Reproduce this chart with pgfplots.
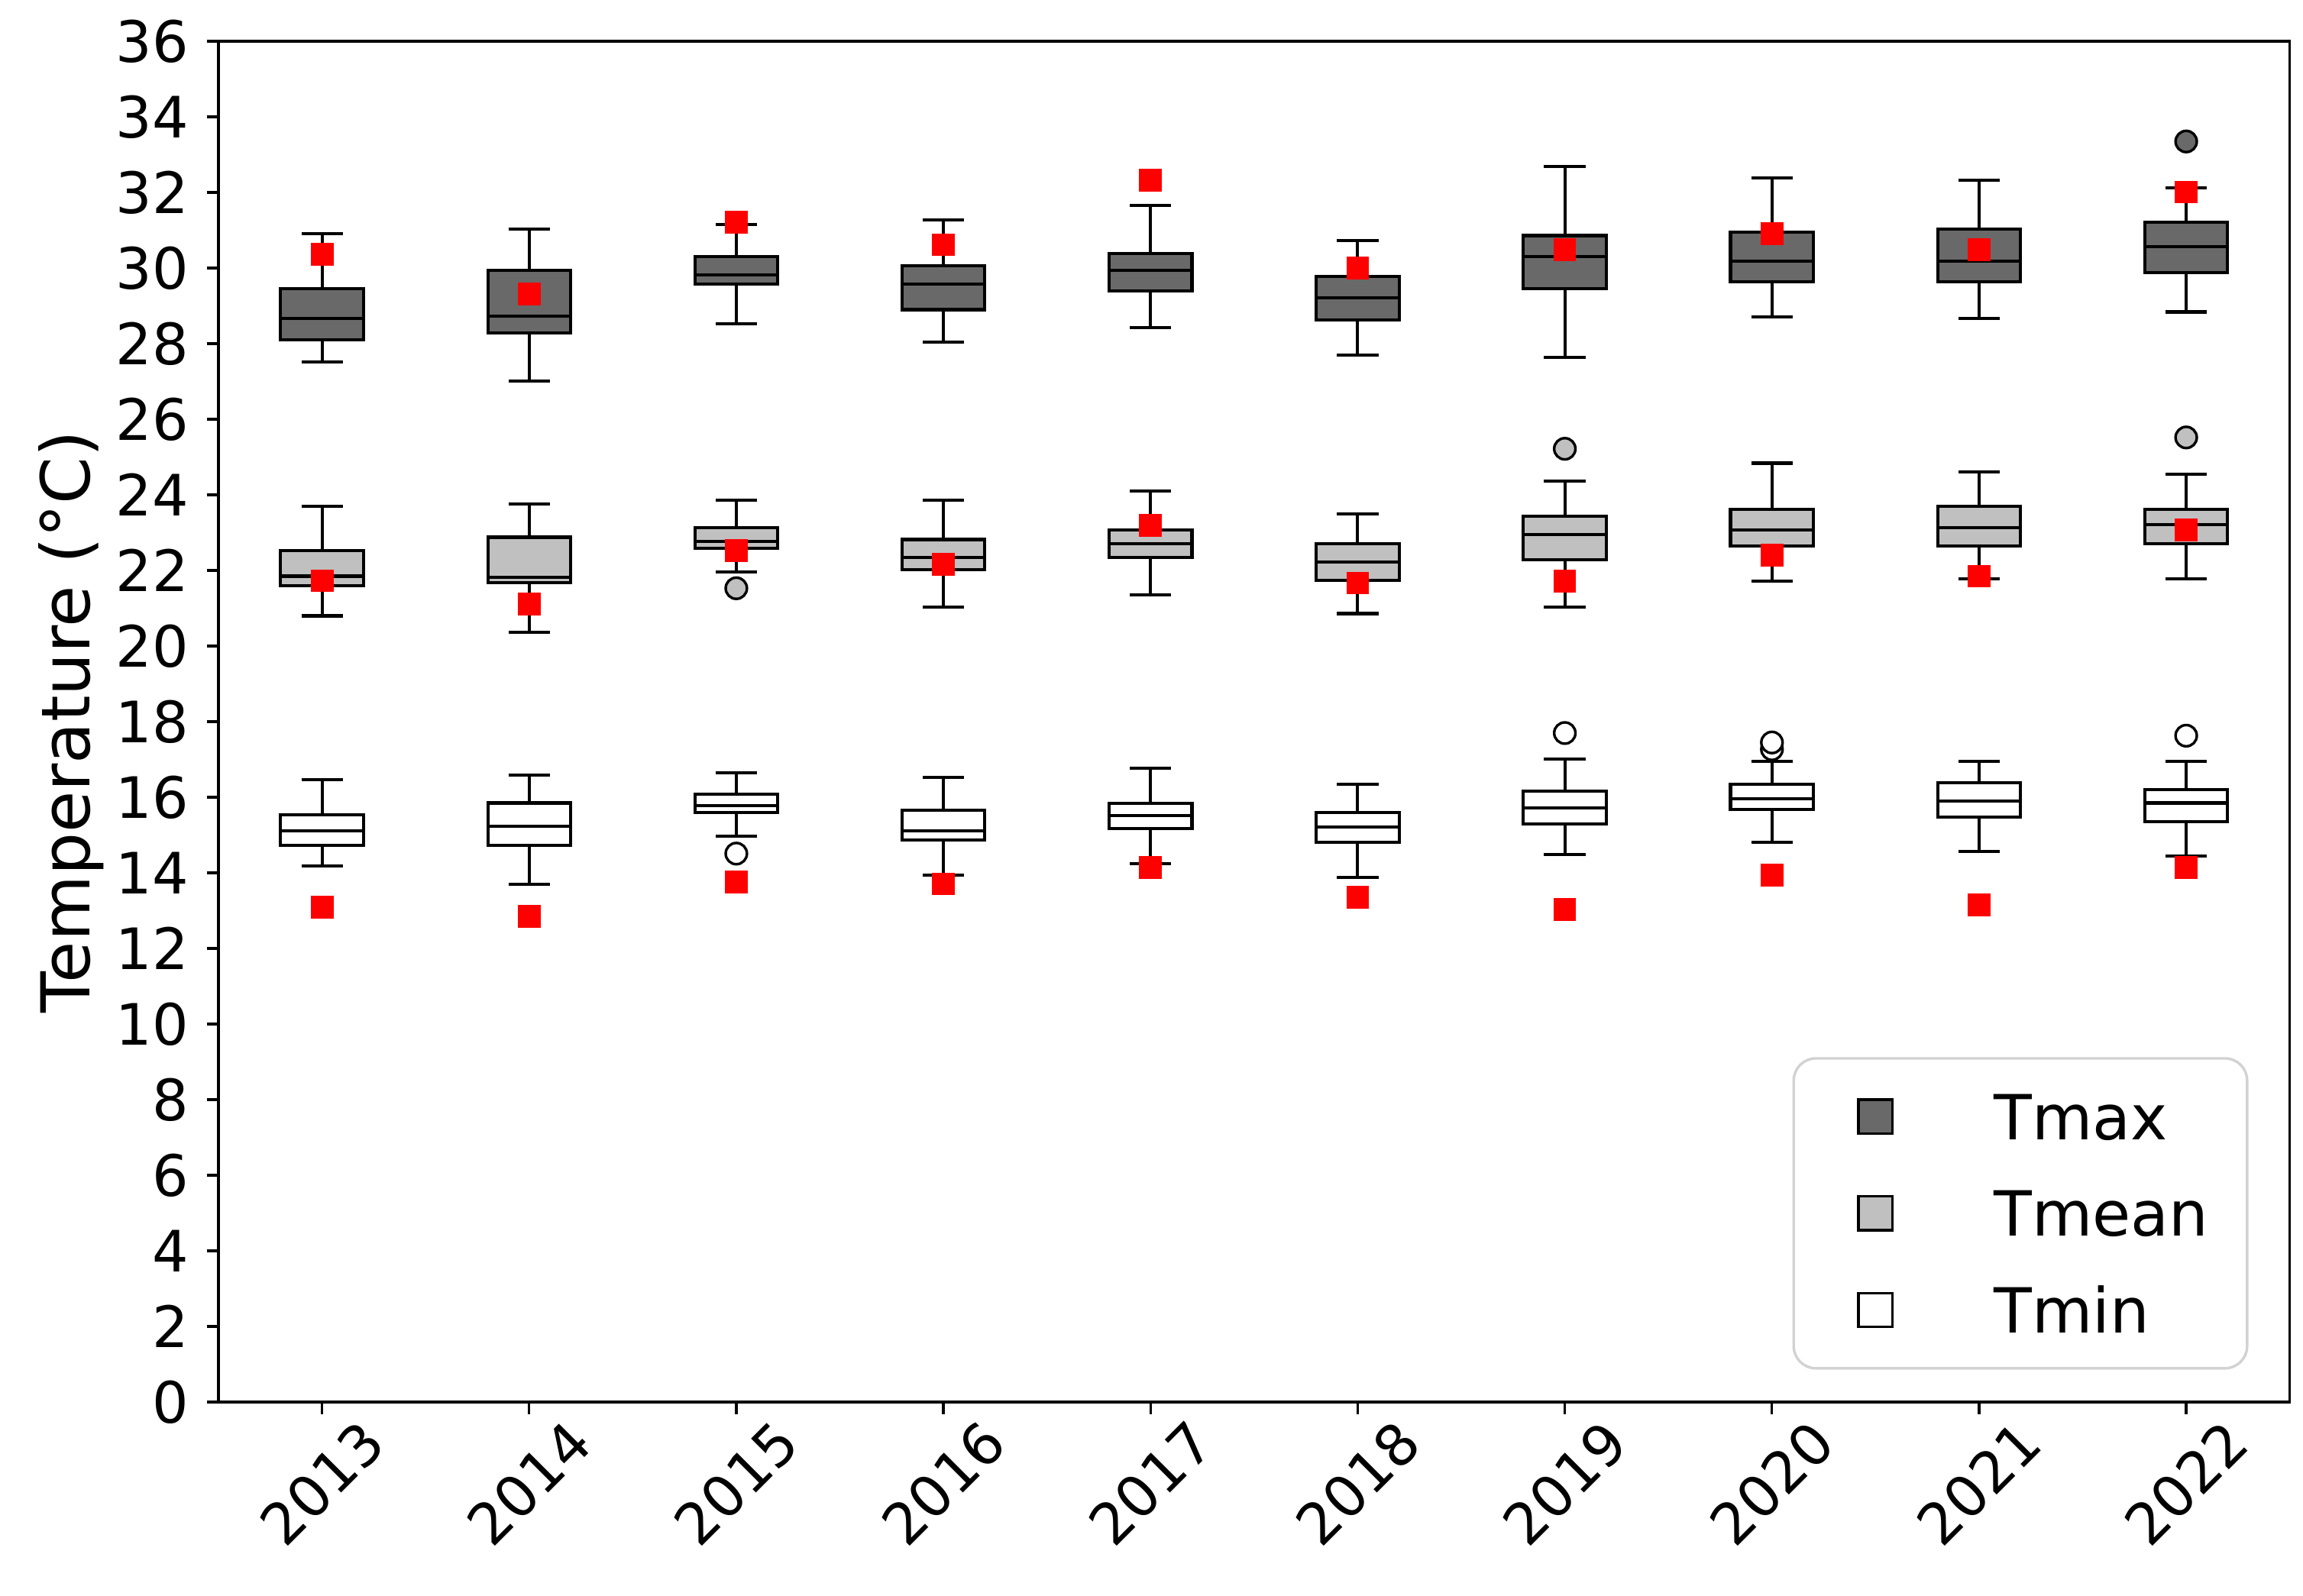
\documentclass[border=0pt]{standalone}
\usepackage{fontspec}
\setmainfont{DejaVu Sans}
\usepackage{pgfplots}
\pgfplotsset{compat=1.18}
\usepgfplotslibrary{statistics}
\usetikzlibrary{calc}

\definecolor{tmaxc}{RGB}{105,105,105}
\definecolor{tmeanc}{RGB}{192,192,192}

\pgfplotsset{
  bxs/.style={
    solid, draw=black, line width=0.6pt,
    mark=*, mark size=0.72mm,
    boxplot/draw direction=y,
    boxplot/box extend=0.4,
    boxplot/whisker extend=0.2,
  },
  sermax/.style={bxs, fill=tmaxc, mark options={draw=black, fill=tmaxc, line width=0.5pt}},
  sermean/.style={bxs, fill=tmeanc, mark options={draw=black, fill=tmeanc, line width=0.5pt}},
  sermin/.style={bxs, fill=white, mark options={draw=black, fill=white, line width=0.5pt}},
  redsq/.style={only marks, mark=square*, mark size=0.7mm, mark options={draw=red, fill=red}},
}

% style, position, lower whisker, lower quartile, median, upper quartile, upper whisker, outliers
\newcommand{\yrbox}[8]{\addplot[#1, boxplot prepared={draw position=#2,
  lower whisker=#3, lower quartile=#4, median=#5, upper quartile=#6, upper whisker=#7}]
  coordinates {#8};}

\begin{document}
\begin{tikzpicture}
\begin{axis}[
  width=140.3mm, height=92.2mm, scale only axis,
  xmin=0.5, xmax=10.5, ymin=0, ymax=36,
  xtick={1,...,10},
  xticklabels={2013,2014,2015,2016,2017,2018,2019,2020,2021,2022},
  ytick={0,2,...,36},
  xtick pos=bottom, ytick pos=left,
  tick align=outside, major tick length=0.8mm,
  tick style={black, line width=0.5pt},
  axis line style={line width=0.5pt},
  ticklabel style={font=\fontsize{11}{13}\selectfont, /pgf/number format/assume math mode=true},
  xticklabel style={yshift=-4.7mm, rotate=45, anchor=center},
  ylabel={Temperature (°C)},
  ylabel style={font=\fontsize{13}{15}\selectfont, at={(axis description cs:-0.0713,0.5)}, anchor=center},
  legend image code/.code={\draw[#1, sharp corners, line width=0.5pt] (1.7mm,-1.15mm) rectangle (4.0mm,1.15mm); \path (0mm,0mm);},
  legend style={at={(1,0)}, anchor=south east, xshift=-2.8mm, yshift=2.2mm,
    draw=gray!35, line width=0.5pt, rounded corners=1.5mm,
    inner xsep=2.6mm, inner ysep=2.4mm, row sep=3.45mm, column sep=6.8mm,
    font=\fontsize{12}{14}\selectfont,
    nodes={inner sep=0pt, text height=3.1mm, text depth=0pt}},
  legend cell align=left,
]
\coordinate (SW) at (rel axis cs:0,0);
\coordinate (NE) at (rel axis cs:1,1);

\addlegendimage{fill=tmaxc, draw=black}
\addlegendentry{Tmax}
\addlegendimage{fill=tmeanc, draw=black}
\addlegendentry{Tmean}
\addlegendimage{fill=white, draw=black}
\addlegendentry{Tmin}

% Tmax
\yrbox{sermax}{1}{27.51}{28.11}{28.66}{29.46}{30.92}{}
\yrbox{sermax}{2}{27.01}{28.29}{28.72}{29.95}{31.04}{}
\yrbox{sermax}{3}{28.53}{29.58}{29.82}{30.31}{31.16}{}
\yrbox{sermax}{4}{28.04}{28.90}{29.58}{30.07}{31.28}{}
\yrbox{sermax}{5}{28.42}{29.40}{29.95}{30.38}{31.65}{}
\yrbox{sermax}{6}{27.69}{28.62}{29.22}{29.77}{30.73}{}
\yrbox{sermax}{7}{27.63}{29.45}{30.31}{30.86}{32.68}{}
\yrbox{sermax}{8}{28.71}{29.63}{30.18}{30.96}{32.38}{}
\yrbox{sermax}{9}{28.66}{29.63}{30.18}{31.04}{32.32}{}
\yrbox{sermax}{10}{28.84}{29.88}{30.56}{31.21}{32.13}{(10,33.35)}

% Tmean
\yrbox{sermean}{1}{20.80}{21.60}{21.85}{22.52}{23.70}{}
\yrbox{sermean}{2}{20.37}{21.67}{21.82}{22.88}{23.76}{}
\yrbox{sermean}{3}{21.97}{22.59}{22.77}{23.13}{23.86}{(3,21.53)}
\yrbox{sermean}{4}{21.04}{22.03}{22.34}{22.82}{23.86}{}
\yrbox{sermean}{5}{21.35}{22.34}{22.71}{23.07}{24.11}{}
\yrbox{sermean}{6}{20.86}{21.73}{22.22}{22.71}{23.50}{}
\yrbox{sermean}{7}{21.04}{22.28}{22.96}{23.44}{24.36}{(7,25.22)}
\yrbox{sermean}{8}{21.72}{22.64}{23.07}{23.62}{24.84}{}
\yrbox{sermean}{9}{21.78}{22.64}{23.13}{23.69}{24.60}{}
\yrbox{sermean}{10}{21.78}{22.71}{23.21}{23.62}{24.54}{(10,25.52)}

% Tmin
\yrbox{sermin}{1}{14.18}{14.73}{15.12}{15.53}{16.46}{}
\yrbox{sermin}{2}{13.69}{14.73}{15.23}{15.85}{16.58}{}
\yrbox{sermin}{3}{14.98}{15.60}{15.78}{16.09}{16.65}{(3,14.51)}
\yrbox{sermin}{4}{13.94}{14.87}{15.11}{15.66}{16.52}{}
\yrbox{sermin}{5}{14.25}{15.17}{15.52}{15.84}{16.77}{}
\yrbox{sermin}{6}{13.88}{14.81}{15.22}{15.60}{16.34}{}
\yrbox{sermin}{7}{14.49}{15.30}{15.72}{16.16}{17.01}{(7,17.70)}
\yrbox{sermin}{8}{14.81}{15.67}{15.97}{16.34}{16.95}{(8,17.27) (8,17.45)}
\yrbox{sermin}{9}{14.56}{15.48}{15.90}{16.39}{16.95}{}
\yrbox{sermin}{10}{14.44}{15.36}{15.85}{16.21}{16.95}{(10,17.63)}

% red squares
\addplot[redsq] coordinates {
  (1,30.37) (2,29.32) (3,31.22) (4,30.62) (5,32.32)
  (6,30.00) (7,30.49) (8,30.91) (9,30.48) (10,32.01)};
\addplot[redsq] coordinates {
  (1,21.73) (2,21.12) (3,22.52) (4,22.16) (5,23.20)
  (6,21.67) (7,21.72) (8,22.40) (9,21.85) (10,23.07)};
\addplot[redsq] coordinates {
  (1,13.09) (2,12.85) (3,13.76) (4,13.71) (5,14.14)
  (6,13.35) (7,13.03) (8,13.94) (9,13.15) (10,14.14)};
\end{axis}
\pgfresetboundingbox
\path[use as bounding box] ($(SW)+(-14.8mm,-13.1mm)$) rectangle ($(NE)+(0.9mm,2.8mm)$);
\end{tikzpicture}
\end{document}
